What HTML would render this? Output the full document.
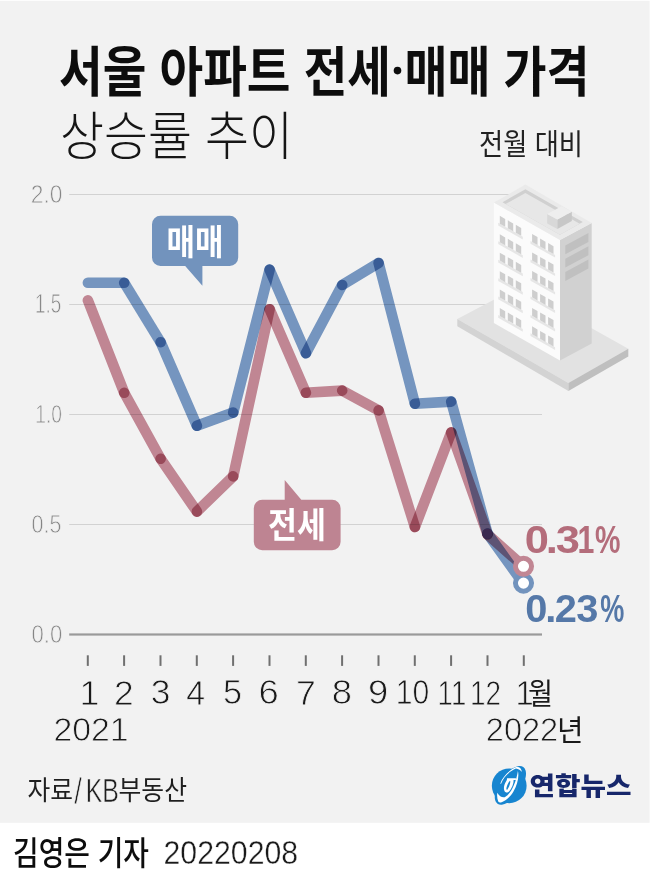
<!DOCTYPE html>
<html lang="ko"><head><meta charset="utf-8"><title>서울 아파트 전세·매매 가격 상승률 추이</title>
<style>html,body{margin:0;padding:0;background:#fff}body{width:650px;height:881px;overflow:hidden;font-family:"Liberation Sans",sans-serif}svg{display:block;font-family:"Liberation Sans",sans-serif}.m{mix-blend-mode:multiply}.k{font-family:"Liberation Sans","Noto Sans CJK KR",sans-serif}</style></head><body>
<svg width="650" height="881" viewBox="0 0 650 881">
<rect width="650" height="881" fill="#fff"/>
<rect y="0.8" width="649.6" height="822" fill="#f2f2f2"/>
<g id="title"><text class="k" x="59" y="92" font-size="54" font-weight="700" fill="#0d0d0d" textLength="332" lengthAdjust="spacingAndGlyphs">서울 아파트 전세</text><text class="k" x="404.5" y="92" font-size="54" font-weight="700" fill="#0d0d0d" textLength="185" lengthAdjust="spacingAndGlyphs">매매 가격</text><circle cx="397.5" cy="70.6" r="3.8" fill="#0d0d0d"/></g>
<g id="subtitle"><text class="k" x="60" y="154.5" font-size="52" font-weight="300" fill="#161616" textLength="233" lengthAdjust="spacingAndGlyphs">상승률 추이</text></g>
<g id="unit"><text class="k" x="479" y="155" font-size="29" fill="#222" textLength="104" lengthAdjust="spacingAndGlyphs">전월 대비</text></g>
<g id="grid">
<rect x="69.2" y="194" width="472.8" height="1" fill="#d2d2d2"/>
<rect x="69.2" y="304" width="472.8" height="1" fill="#d2d2d2"/>
<rect x="69.2" y="414" width="472.8" height="1" fill="#d2d2d2"/>
<rect x="69.2" y="524" width="472.8" height="1" fill="#d2d2d2"/>
<rect x="69.2" y="633.4" width="472.8" height="2.2" fill="#9a9a9a"/>
</g>
<g id="building"><path fill="#e2e2e2" d="M457.3 318.9L518 287L628.3 348.7L568.4 382.9z"/><path fill="#d3d3d3" d="M457.3 318.9L568.4 382.9L568.4 391.1L457.3 326.2z"/><path fill="#bfbfbf" d="M568.4 382.9L628.3 348.7L628.3 356.6L568.4 391.1z"/><path fill="#fbfbfb" d="M493.9 202.6L560 239.9L560 360.4L493.9 323.1z"/><path fill="#d1d1d1" d="M560 239.9L591.7 222.9L591.7 343.4L560 360.4z"/><path fill="#eaeaea" d="M493.9 202.6L525.4 184.6L591.7 222.9L560 239.9z"/><clipPath id="rc"><path d="M502.5 202.2L525.4 189.3L582.8 221.9L559.9 234.8z"/></clipPath><path fill="#d0d0d0" d="M502.5 202.2L525.4 189.3L582.8 221.9L559.9 234.8z"/><path fill="#e7e7e7" clip-path="url(#rc)" d="M502.5 205.8L525.4 192.9L582.8 225.5L559.9 238.4z"/><path fill="#d8d8d8" d="M547.2 214L557.4 219.6L557.4 229L547.2 223.4z"/><path fill="#c7c7c7" d="M557.4 219.6L571.8 211.7L571.8 221.1L557.4 229z"/><path fill="#eeeeee" d="M547.2 214L561.6 206.3L571.8 211.7L557.4 219.6z"/><path fill="#e6e6e6" d="M498.2 222.8l24.6 13.9v2.7l-24.6 -13.9zM498.2 241.3l24.6 13.9v2.7l-24.6 -13.9zM498.2 259.7l24.6 13.9v2.7l-24.6 -13.9zM498.2 278.2l24.6 13.9v2.7l-24.6 -13.9zM498.2 296.6l24.6 13.9v2.7l-24.6 -13.9zM498.2 315.1l24.6 13.9v2.7l-24.6 -13.9zM530.5 241l24.6 13.9v2.7l-24.6 -13.9zM530.5 259.5l24.6 13.9v2.7l-24.6 -13.9zM530.5 278l24.6 13.9v2.7l-24.6 -13.9zM530.5 296.4l24.6 13.9v2.7l-24.6 -13.9zM530.5 314.9l24.6 13.9v2.7l-24.6 -13.9zM530.5 333.3l24.6 13.9v2.7l-24.6 -13.9z"/><path fill="#cecece" d="M499.8 215.8l5.4 3.1v7.9l-5.4 -3.1zM507.8 220.3l5.4 3.1v7.9l-5.4 -3.1zM515.8 224.8l5.4 3.1v7.9l-5.4 -3.1zM499.8 234.3l5.4 3.1v7.9l-5.4 -3.1zM507.8 238.8l5.4 3.1v7.9l-5.4 -3.1zM515.8 243.3l5.4 3.1v7.9l-5.4 -3.1zM499.8 252.7l5.4 3.1v7.9l-5.4 -3.1zM507.8 257.2l5.4 3.1v7.9l-5.4 -3.1zM515.8 261.8l5.4 3.1v7.9l-5.4 -3.1zM499.8 271.2l5.4 3.1v7.9l-5.4 -3.1zM507.8 275.7l5.4 3.1v7.9l-5.4 -3.1zM515.8 280.2l5.4 3.1v7.9l-5.4 -3.1zM499.8 289.6l5.4 3.1v7.9l-5.4 -3.1zM507.8 294.2l5.4 3.1v7.9l-5.4 -3.1zM515.8 298.7l5.4 3.1v7.9l-5.4 -3.1zM499.8 308.1l5.4 3.1v7.9l-5.4 -3.1zM507.8 312.6l5.4 3.1v7.9l-5.4 -3.1zM515.8 317.1l5.4 3.1v7.9l-5.4 -3.1zM532.1 234l5.4 3.1v7.9l-5.4 -3.1zM540.1 238.6l5.4 3.1v7.9l-5.4 -3.1zM548.1 243.1l5.4 3.1v7.9l-5.4 -3.1zM532.1 252.5l5.4 3.1v7.9l-5.4 -3.1zM540.1 257l5.4 3.1v7.9l-5.4 -3.1zM548.1 261.5l5.4 3.1v7.9l-5.4 -3.1zM532.1 271l5.4 3.1v7.9l-5.4 -3.1zM540.1 275.5l5.4 3.1v7.9l-5.4 -3.1zM548.1 280l5.4 3.1v7.9l-5.4 -3.1zM532.1 289.4l5.4 3.1v7.9l-5.4 -3.1zM540.1 293.9l5.4 3.1v7.9l-5.4 -3.1zM548.1 298.5l5.4 3.1v7.9l-5.4 -3.1zM532.1 307.9l5.4 3.1v7.9l-5.4 -3.1zM540.1 312.4l5.4 3.1v7.9l-5.4 -3.1zM548.1 316.9l5.4 3.1v7.9l-5.4 -3.1zM532.1 326.3l5.4 3.1v7.9l-5.4 -3.1zM540.1 330.9l5.4 3.1v7.9l-5.4 -3.1zM548.1 335.4l5.4 3.1v7.9l-5.4 -3.1z"/><path fill="#c0c0c0" d="M565.3 245.4l23.1 -12.4v8.9l-23.1 12.4zM565.3 258.7l23.1 -12.4v8.9l-23.1 12.4zM565.3 272l23.1 -12.4v8.9l-23.1 12.4z"/></g>
<g id="ylabels">
<text transform="translate(30.77 202.52) scale(0.8560 1)" font-size="26.64" fill="#868686" stroke="#f2f2f2" stroke-width="0.76">2.0</text>
<text transform="translate(34.98 312.52) scale(0.6998 1)" font-size="27.03" fill="#868686" stroke="#f2f2f2" stroke-width="0.76">1.5</text>
<text transform="translate(35.25 422.52) scale(0.7232 1)" font-size="26.64" fill="#868686" stroke="#f2f2f2" stroke-width="0.76">1.0</text>
<text transform="translate(31.48 532.52) scale(0.8075 1)" font-size="26.64" fill="#868686" stroke="#f2f2f2" stroke-width="0.76">0.5</text>
<text transform="translate(31.45 642.52) scale(0.8315 1)" font-size="26.64" fill="#868686" stroke="#f2f2f2" stroke-width="0.76">0.0</text>
</g>
<g id="rent"><g stroke="#cb8d9b" stroke-width="10.6" stroke-linecap="round" fill="none"><path class="m" d="M87.9 300.4L124.2 392.8"/><path class="m" d="M124.2 392.8L160.6 458.8"/><path class="m" d="M160.6 458.8L196.9 511.6"/><path class="m" d="M196.9 511.6L233.2 476.4"/><path class="m" d="M233.2 476.4L269.6 309.2"/><path class="m" d="M269.6 309.2L305.9 392.8"/><path class="m" d="M305.9 392.8L342.2 390.6"/><path class="m" d="M342.2 390.6L378.6 410.4"/><path class="m" d="M378.6 410.4L414.9 527"/><path class="m" d="M414.9 527L451.2 432.4"/><path class="m" d="M451.2 432.4L487.6 534.5"/><path class="m" d="M487.6 534.5L523.9 566.6"/></g></g>
<g id="sale"><g stroke="#7b9dc9" stroke-width="10.6" stroke-linecap="round" fill="none"><path class="m" d="M87.9 282.8L124.2 282.8"/><path class="m" d="M124.2 282.8L160.6 342.2"/><path class="m" d="M160.6 342.2L196.9 425.8"/><path class="m" d="M196.9 425.8L233.2 412.6"/><path class="m" d="M233.2 412.6L269.6 269.6"/><path class="m" d="M269.6 269.6L305.9 353.2"/><path class="m" d="M305.9 353.2L342.2 285"/><path class="m" d="M342.2 285L378.6 263"/><path class="m" d="M378.6 263L414.9 403.8"/><path class="m" d="M414.9 403.8L451.2 401.6"/><path class="m" d="M451.2 401.6L487.6 533.6"/><path class="m" d="M487.6 533.6L523.9 584.2"/></g></g>
<circle cx="487.3" cy="533.7" r="5.2" fill="#3c2950"/>
<circle cx="523.5" cy="583.1" r="8.05" fill="#fff" stroke="#7293bd" stroke-width="5"/>
<circle cx="523.5" cy="566.3" r="8.05" fill="#fff" stroke="#c18693" stroke-width="5"/>
<g id="val-rent" aria-label="0.31%">
<text transform="translate(0 553.13) scale(1.1413 1)" x="459.7 478.14 486.91" font-size="38.14" font-weight="700" fill="#b46d7b">0.3</text>
<text transform="translate(577.39 553.1) scale(0.7957 1)" font-size="38.08" font-weight="700" fill="#b46d7b">1</text>
<text transform="translate(595.09 553.2) scale(0.7464 1)" font-size="38.37" font-weight="700" fill="#b46d7b">%</text>
</g><g id="val-sale" aria-label="0.23%">
<text transform="translate(0 622.33) scale(1.0407 1)" x="504.72 523.88 533.05 553.76" font-size="38.28" font-weight="700" fill="#5578a8">0.23</text>
<text transform="translate(600.23 622.4) scale(0.7034 1)" font-size="38.52" font-weight="700" fill="#5578a8">%</text>
</g>
<g id="lab-sale"><path fill="#7293bd" d="M160.5 215.7h69.2a8.5 8.5 0 0 1 8.5 8.5v33.4a8.5 8.5 0 0 1 -8.5 8.5h-27.3v19.7l-17.2 -19.7h-24.7a8.5 8.5 0 0 1 -8.5 -8.5v-33.4a8.5 8.5 0 0 1 8.5 -8.5z"/>
<text class="k" x="166.5" y="254.5" font-size="35" font-weight="700" fill="#fff" textLength="57" lengthAdjust="spacingAndGlyphs">매매</text></g>
<g id="lab-rent"><path fill="#be8492" d="M262.3 499.7h22.4v-19.6l16.6 19.6h30.8a8.5 8.5 0 0 1 8.5 8.5v33.6a8.5 8.5 0 0 1 -8.5 8.5h-69.8a8.5 8.5 0 0 1 -8.5 -8.5v-33.6a8.5 8.5 0 0 1 8.5 -8.5z"/>
<text class="k" x="268" y="537.5" font-size="35" font-weight="700" fill="#fff" textLength="58" lengthAdjust="spacingAndGlyphs">전세</text></g>
<g id="xaxis">
<rect x="86.8" y="655.3" width="2" height="10.6" fill="#707070"/>
<rect x="123.1" y="655.3" width="2" height="10.6" fill="#707070"/>
<rect x="159.5" y="655.3" width="2" height="10.6" fill="#707070"/>
<rect x="195.8" y="655.3" width="2" height="10.6" fill="#707070"/>
<rect x="232.1" y="655.3" width="2" height="10.6" fill="#707070"/>
<rect x="268.5" y="655.3" width="2" height="10.6" fill="#707070"/>
<rect x="304.8" y="655.3" width="2" height="10.6" fill="#707070"/>
<rect x="341.1" y="655.3" width="2" height="10.6" fill="#707070"/>
<rect x="377.5" y="655.3" width="2" height="10.6" fill="#707070"/>
<rect x="413.8" y="655.3" width="2" height="10.6" fill="#707070"/>
<rect x="450.1" y="655.3" width="2" height="10.6" fill="#707070"/>
<rect x="486.5" y="655.3" width="2" height="10.6" fill="#707070"/>
<rect x="522.8" y="655.3" width="2" height="10.6" fill="#707070"/>
<text transform="translate(79.38 704.6) scale(1.0128 1)" font-size="35.47" fill="#1a1a1a" stroke="#f2f2f2" stroke-width="0.8">1</text>
<text transform="translate(114.02 704.6) scale(1.0113 1)" font-size="34.94" fill="#1a1a1a" stroke="#f2f2f2" stroke-width="0.8">2</text>
<text transform="translate(150.75 704.26) scale(1.0282 1)" font-size="34.46" fill="#1a1a1a" stroke="#f2f2f2" stroke-width="0.8">3</text>
<text transform="translate(186.32 704.6) scale(0.9568 1)" font-size="35.47" fill="#1a1a1a" stroke="#f2f2f2" stroke-width="0.8">4</text>
<text transform="translate(223.03 704.26) scale(0.9771 1)" font-size="34.97" fill="#1a1a1a" stroke="#f2f2f2" stroke-width="0.8">5</text>
<text transform="translate(258.55 704.26) scale(1.0565 1)" font-size="34.46" fill="#1a1a1a" stroke="#f2f2f2" stroke-width="0.8">6</text>
<text transform="translate(296.07 704.6) scale(1.0048 1)" font-size="35.47" fill="#1a1a1a" stroke="#f2f2f2" stroke-width="0.8">7</text>
<text transform="translate(331.72 704.26) scale(1.0574 1)" font-size="34.46" fill="#1a1a1a" stroke="#f2f2f2" stroke-width="0.8">8</text>
<text transform="translate(367.9 704.26) scale(1.0553 1)" font-size="34.46" fill="#1a1a1a" stroke="#f2f2f2" stroke-width="0.8">9</text>
<text transform="translate(395.82 704.26) scale(0.8754 1)" font-size="34.46" fill="#1a1a1a" stroke="#f2f2f2" stroke-width="0.8">10</text>
<text transform="translate(437.62 704.6) scale(0.7764 1)" font-size="35.47" fill="#1a1a1a" stroke="#f2f2f2" stroke-width="0.8">11</text>
<text transform="translate(469.89 704.6) scale(0.8006 1)" font-size="34.94" fill="#1a1a1a" stroke="#f2f2f2" stroke-width="0.8">12</text>
<text transform="translate(515.61 704.6) scale(0.9278 1)" font-size="35.47" fill="#1a1a1a" stroke="#f2f2f2" stroke-width="0.8">1</text>
<text class="k" x="528" y="704" font-size="30" fill="#1a1a1a" textLength="25" lengthAdjust="spacingAndGlyphs">월</text>
<text transform="translate(53.4 741.27) scale(1.0050 1)" font-size="33.62" fill="#1a1a1a" stroke="#f2f2f2" stroke-width="0.8">2021</text>
<text transform="translate(485.76 741.27) scale(0.9692 1)" font-size="33.62" fill="#1a1a1a" stroke="#f2f2f2" stroke-width="0.8">2022</text>
<text class="k" x="557" y="740.5" font-size="29" fill="#1a1a1a" textLength="26.5" lengthAdjust="spacingAndGlyphs">년</text>
</g>
<g id="source">
<text class="k" x="27.5" y="800" font-size="27" fill="#1f1f1f" textLength="45.5" lengthAdjust="spacingAndGlyphs">자료</text>
<text transform="translate(74.2 803.94) scale(0.7386 1)" font-size="37.04" fill="#1f1f1f" stroke="#f2f2f2" stroke-width="0.8">/</text>
<text transform="translate(85.76 801.8) scale(0.7598 1)" font-size="32.7" fill="#1f1f1f" stroke="#f2f2f2" stroke-width="0.5">KB</text>
<text class="k" x="118.5" y="800" font-size="27" fill="#1f1f1f" textLength="68.5" lengthAdjust="spacingAndGlyphs">부동산</text>
</g>
<g id="byline">
<text class="k" x="13" y="864.5" font-size="33" font-weight="500" fill="#0d0d0d" textLength="136" lengthAdjust="spacingAndGlyphs">김영은 기자</text>
<text transform="translate(163.48 864.08) scale(0.9163 1)" font-size="33.05" fill="#1a1a1a" stroke="#fff" stroke-width="0.4">20220208</text>
</g>
<g id="logo"><g transform="translate(485 760) scale(0.076923)"><circle cx="315" cy="335" r="226" fill="#1785d0"/><ellipse cx="330" cy="330" rx="140" ry="292" transform="rotate(35 330 330)" fill="#1785d0"/><path fill="#fff" d="M198 308C228 215 318 130 405 92C442 82 474 104 480 156C462 132 436 112 402 109C322 142 240 222 209 308z"/><path fill="#fff" d="M428 142C446 222 420 322 370 410C330 480 270 530 215 550C195 557 180 552 172 540C158 505 154 462 160 425C186 470 222 492 256 484C304 458 344 400 372 334C402 268 418 200 428 142z"/><path fill="#fff" fill-rule="evenodd" d="M286 238H402V259H371C374 292 362 330 345 362C325 405 295 430 270 420C235 400 240 330 275 275L284 259zM322 272C304 288 286 328 279 362C275 388 283 394 292 382C312 352 328 312 329 282C328 272 326 269 322 272z"/></g><text class="k" x="529.5" y="795" font-size="25" font-weight="900" fill="#17276b" textLength="102" lengthAdjust="spacingAndGlyphs">연합뉴스</text></g>
</svg></body></html>
